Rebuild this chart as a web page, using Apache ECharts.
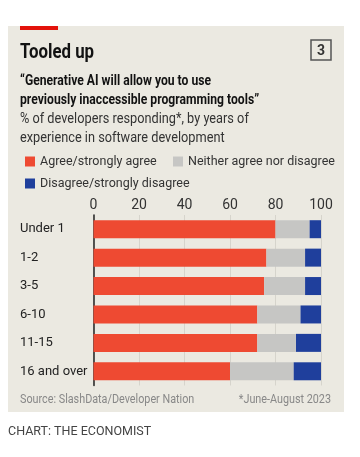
<!DOCTYPE html>
<html>
<head>
<meta charset="utf-8">
<script src="https://cdn.jsdelivr.net/npm/echarts@6/dist/echarts.min.js"></script>
<style>html,body{margin:0;padding:0;background:#fff}#c{width:360px;height:457px}</style>
</head>
<body>
<div id="c"></div>
<script>
var categories = ['Under 1', '1-2', '3-5', '6-10', '11-15', '16 and over'];
var agree = [80, 76, 75, 72, 72, 60];
var neither = [15, 17, 18, 19, 17, 28];
var disagree = [5, 7, 7, 9, 11, 12];
var seriesNames = ['Agree/strongly agree', 'Neither agree nor disagree', 'Disagree/strongly disagree'];

var FONT = 'Roboto, "Liberation Sans", sans-serif';
var colors = ['#ee4a32', '#c6c6c4', '#1f3f9c'];

function txt(x, y, text, font, fill, sx, align, lh) {
  return {type: 'text', x: x, y: y, scaleX: sx || 1,
    style: {x: 0, y: 0, text: text, font: font, fill: fill, align: align || 'left', verticalAlign: 'top', lineHeight: lh}};
}

var legendText = {fontSize: 12.5, color: '#333', fontFamily: FONT};

var chart = echarts.init(document.getElementById('c'), null, {renderer: 'canvas'});
chart.setOption({
  animation: false,
  backgroundColor: '#ffffff',
  textStyle: {fontFamily: FONT},
  graphic: [
    {type: 'rect', z: -10, shape: {x: 8, y: 26, width: 336, height: 386}, style: {fill: '#ebe9e1'}},
    {type: 'rect', shape: {x: 20, y: 26, width: 38, height: 4}, style: {fill: '#e3120b'}},
    txt(20, 42, 'Tooled up', 'bold 20.5px ' + FONT, '#121212', 0.82),
    {type: 'rect', shape: {x: 311, y: 40, width: 20, height: 20}, style: {fill: 'none', stroke: '#555', lineWidth: 1.5}},
    txt(321, 44, '3', 'bold 14px ' + FONT, '#333', 1, 'center'),
    txt(20, 71.5, '\u201cGenerative AI will allow you to use\npreviously inaccessible programming tools\u201d', 'bold 15px ' + FONT, '#121212', 0.81, 'left', 19),
    txt(20, 110, '% of developers responding*, by years of\nexperience in software development', '15px ' + FONT, '#333', 0.85, 'left', 18.5),
    txt(20, 393, 'Source: SlashData/Developer Nation', '13px ' + FONT, '#888', 0.83),
    txt(331, 393, '*June-August 2023', '13px ' + FONT, '#888', 0.83, 'right'),
    txt(8, 425, 'CHART: THE ECONOMIST', '12.5px ' + FONT, '#444', 1)
  ],
  legend: [
    {left: 20, top: 150, itemWidth: 10, itemHeight: 10, icon: 'rect', data: [seriesNames[0]], textStyle: legendText},
    {left: 168, top: 150, itemWidth: 10, itemHeight: 10, icon: 'rect', data: [seriesNames[1]], textStyle: legendText},
    {left: 20, top: 172, itemWidth: 10, itemHeight: 10, icon: 'rect', data: [seriesNames[2]], textStyle: legendText}
  ],
  grid: {left: 93.5, right: 39, top: 215, bottom: 71.5, containLabel: false},
  xAxis: {
    type: 'value', position: 'top', min: 0, max: 100, interval: 20,
    axisLine: {show: false}, axisTick: {show: false},
    axisLabel: {fontSize: 14, color: '#333', margin: 3, fontFamily: FONT},
    splitLine: {show: true, lineStyle: {color: '#d6d4cc', width: 1}}
  },
  yAxis: {
    type: 'category', inverse: true, data: categories,
    axisLine: {show: true, lineStyle: {color: '#222', width: 1.5}},
    axisTick: {show: false},
    axisLabel: {align: 'left', margin: 73.5, fontSize: 13, color: '#222', fontFamily: FONT}
  },
  series: [
    {name: seriesNames[0], type: 'bar', stack: 's', data: agree, barWidth: 18, itemStyle: {color: colors[0]}},
    {name: seriesNames[1], type: 'bar', stack: 's', data: neither, barWidth: 18, itemStyle: {color: colors[1]}},
    {name: seriesNames[2], type: 'bar', stack: 's', data: disagree, barWidth: 18, itemStyle: {color: colors[2]}}
  ]
});
</script>
</body>
</html>
